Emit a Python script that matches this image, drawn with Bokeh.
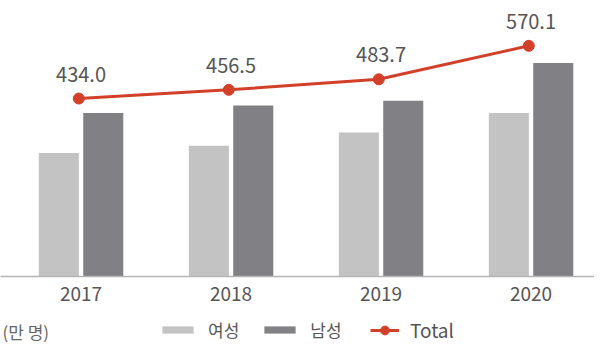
from bokeh.plotting import figure
from bokeh.models import (ColumnDataSource, Range1d, FixedTicker, Legend, LegendItem,
                          LabelSet, Label)
from bokeh.layouts import column
from bokeh.transform import dodge
from bokeh.core.properties import value
from bokeh.embed import file_html
from bokeh.resources import INLINE

# ---- data ----
years = [2017, 2018, 2019, 2020]
female = [186.8, 197.8, 217.9, 247.3]   # 여성 (estimated)
male = [247.2, 258.7, 265.8, 322.8]     # 남성 (estimated)
total = [434.0, 456.5, 483.7, 570.1]    # Total
total_labels = ["434.0", "456.5", "483.7", "570.1"]
unit_label = "(만 명)"
series_names = ["여성", "남성", "Total"]

# ---- styles ----
C_F = "#c3c3c3"
C_M = "#818185"
C_T = "#d2402a"
TXT = "#555555"
FONT = "Noto Sans CJK KR"

src = ColumnDataSource(dict(year=years, female=female, male=male,
                            total=total, lbl=total_labels))

p = figure(width=594, height=306,
           x_range=Range1d(2016.463, 2020.423), y_range=Range1d(0, 417.3),
           output_backend="svg", toolbar_location=None, y_axis_location=None,
           min_border_left=0, min_border_right=0, min_border_top=0,
           min_border_bottom=30, outline_line_color=None)
p.extra_y_ranges = {"tot": Range1d(-25.7, 687.2)}

p.xgrid.visible = False
p.ygrid.visible = False

rf = p.vbar(x=dodge("year", -0.148, range=p.x_range), top="female", width=0.267,
            source=src, fill_color=C_F, line_color=None)
rm = p.vbar(x=dodge("year", 0.148, range=p.x_range), top="male", width=0.267,
            source=src, fill_color=C_M, line_color=None)

rl = p.line(x=dodge("year", -0.015, range=p.x_range), y="total", source=src,
            y_range_name="tot", line_color=C_T, line_width=3)
rs = p.scatter(x=dodge("year", -0.015, range=p.x_range), y="total", source=src,
               y_range_name="tot", size=11, fill_color=C_T, line_color=C_T)

labels = LabelSet(x="year", y="total", text="lbl", source=src, y_range_name="tot",
                  y_offset=17, text_align="center", text_baseline="alphabetic",
                  text_font=value(FONT), text_font_size="20px", text_color=TXT)
p.add_layout(labels)

ax = p.xaxis[0]
ax.ticker = FixedTicker(ticks=years)
ax.major_tick_line_color = None
ax.minor_tick_line_color = None
ax.major_tick_out = 0
ax.major_tick_in = 0
ax.axis_line_color = "#b5b5b5"
ax.axis_line_width = 1.5
ax.major_label_standoff = 10
ax.major_label_text_font = FONT
ax.major_label_text_font_size = "19px"
ax.major_label_text_color = TXT

# ---- legend row (separate small figure) ----
p2 = figure(width=594, height=38, x_range=Range1d(0, 594), y_range=Range1d(0, 38),
            output_backend="svg", toolbar_location=None,
            x_axis_location=None, y_axis_location=None,
            min_border_left=0, min_border_right=0, min_border_top=0,
            min_border_bottom=0, outline_line_color=None)
p2.xgrid.visible = False
p2.ygrid.visible = False
# legend proxies: one point each, placed outside the visible range
proxy = ColumnDataSource(dict(x=[-100], y=[-100]))
lf = p2.vbar(x="x", top="y", width=1, source=proxy, fill_color=C_F, line_color=None)
lm = p2.vbar(x="x", top="y", width=1, source=proxy, fill_color=C_M, line_color=None)
ll = p2.line(x="x", y="y", source=proxy, line_color=C_T, line_width=3)
ls = p2.scatter(x="x", y="y", source=proxy, fill_color=C_T, line_color=C_T)

leg1 = Legend(items=[LegendItem(label=series_names[0], renderers=[lf]),
                     LegendItem(label=series_names[1], renderers=[lm])],
              location=(158, 2), orientation="horizontal",
              glyph_width=39, glyph_height=9, label_height=20, label_standoff=11,
              spacing=21, padding=0, margin=0, border_line_color=None,
              background_fill_alpha=0, label_text_font=FONT,
              label_text_font_size="17px", label_text_color=TXT)
leg2 = Legend(items=[LegendItem(label=series_names[2], renderers=[ll, ls])],
              location=(370, 1), orientation="horizontal",
              glyph_width=29, glyph_height=22, label_height=20, label_standoff=11,
              padding=0, margin=0, border_line_color=None, background_fill_alpha=0,
              label_text_font=FONT, label_text_font_size="19px",
              label_text_color=TXT)
p2.add_layout(leg1)
p2.add_layout(leg2)
p2.add_layout(Label(x=2, y=13, x_units="screen", y_units="screen", text=unit_label,
                    text_baseline="middle", text_font=FONT, text_font_size="17px",
                    text_color="#666666"))

open("out.html", "w").write(file_html(column(p, p2), INLINE))
